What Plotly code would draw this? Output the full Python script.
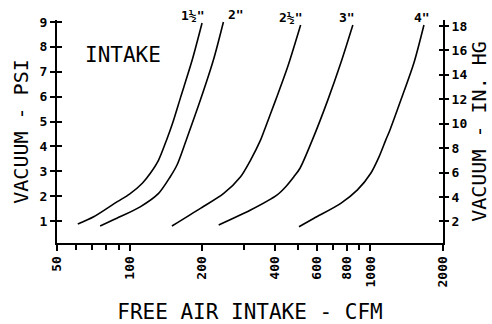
import math
import plotly.graph_objects as go

# ---- data ----
sizes = ['1½"', '2"', '2½"', '3"', '4"']

cfm_15 = [61, 71, 89, 100, 113, 122, 132, 142.5, 151, 163, 182, 200]
psi_15 = [0.88, 1.17, 1.78, 2.08, 2.52, 2.92, 3.45, 4.26, 4.94, 5.98, 7.47, 8.96]

cfm_20 = [75.5, 88.6, 110.7, 132, 147.6, 157.4, 172, 196.8, 222.9, 245.3]
psi_20 = [0.80, 1.11, 1.57, 2.11, 2.78, 3.25, 4.26, 5.86, 7.47, 9.0]

cfm_25 = [150, 197, 246, 289, 318, 350, 367, 404, 453, 513]
psi_25 = [0.80, 1.51, 2.11, 2.78, 3.45, 4.26, 4.78, 5.86, 7.19, 8.88]

cfm_30 = [234.5, 318, 410, 445, 481, 510, 574, 665, 753, 845]
psi_30 = [0.84, 1.44, 2.05, 2.38, 2.78, 3.12, 4.26, 5.86, 7.35, 8.88]

cfm_40 = [505, 583, 753, 883, 1003, 1085, 1158, 1205, 1337, 1514, 1667]
psi_40 = [0.77, 1.11, 1.71, 2.25, 2.92, 3.58, 4.26, 4.66, 5.86, 7.35, 8.88]

x_tick_vals = [50, 100, 200, 400, 600, 800, 1000, 2000]
x_tick_text = ["50", "100", "200", "400", "600", "800", "1000", "2000"]
x_minor_vals = [60, 70, 80, 90, 300, 500, 700, 900]
psi_ticks = [1, 2, 3, 4, 5, 6, 7, 8, 9]
inhg_ticks = [2, 4, 6, 8, 10, 12, 14, 16, 18]

PSI_TO_INHG = 2.036
psi_range = [0.116, 9.08]
inhg_range = [psi_range[0] * PSI_TO_INHG, psi_range[1] * PSI_TO_INHG]

series = [(cfm_15, psi_15), (cfm_20, psi_20), (cfm_25, psi_25),
          (cfm_30, psi_30), (cfm_40, psi_40)]
label_xshift = [-10, 13, -10, -6, -2]

MONO = "DejaVu Sans Mono"
tick_font = dict(family=MONO, size=13, color="black", weight="bold")
title_font = dict(family=MONO, size=20, color="black")

fig = go.Figure()
for (xs, ys), name in zip(series, sizes):
    fig.add_trace(go.Scatter(x=xs, y=ys, mode="lines", name=name,
                             line=dict(color="black", width=1.6, shape="spline", smoothing=0.8),
                             showlegend=False, hoverinfo="skip"))

# invisible traces to bring secondary axes to life
for ax in ["y2", "y3", "y4"]:
    fig.add_trace(go.Scatter(x=cfm_15[:1], y=psi_15[:1], yaxis=ax, mode="markers",
                             marker=dict(opacity=0), showlegend=False, hoverinfo="skip"))

for (xs, ys), name, dx in zip(series, sizes, label_xshift):
    fig.add_annotation(x=math.log10(xs[-1]), y=ys[-1], xref="x", yref="y",
                       text="<b>" + name + "</b>", showarrow=False,
                       xshift=dx, yshift=7, xanchor="center", yanchor="middle",
                       font=dict(family=MONO, size=13, color="black"))

fig.add_annotation(x=(123 - 57) / 386, y=(243 - 55) / 223,
                   xref="x domain", yref="y domain", text="INTAKE",
                   xanchor="center", yanchor="middle",
                   showarrow=False, font=dict(family=MONO, size=21, color="black"))

axis_common = dict(showgrid=False, zeroline=False, showline=True,
                   linecolor="black", linewidth=2, tickcolor="black",
                   tickwidth=1.5, tickfont=tick_font, automargin=False)

fig.update_layout(
    width=492, height=324,
    margin=dict(l=57, r=49, t=20, b=81),
    paper_bgcolor="white", plot_bgcolor="white",
    xaxis=dict(type="log", range=[math.log10(50), math.log10(2000)],
               tickvals=x_tick_vals, ticktext=x_tick_text, tickangle=-90,
               ticks="outside", ticklen=6,
               minor=dict(tickvals=x_minor_vals, ticks="outside", ticklen=5,
                          tickcolor="black", tickwidth=1.5),
               title=dict(text="FREE AIR INTAKE - CFM",
                          font=dict(family=MONO, size=21, color="black"), standoff=19),
               **axis_common),
    yaxis=dict(range=psi_range, tickvals=psi_ticks, ticks="outside", ticklen=5,
               title=dict(text="VACUUM - PSI", font=title_font, standoff=6),
               **axis_common),
    yaxis2=dict(range=inhg_range, tickvals=inhg_ticks, ticks="outside", ticklen=4,
                overlaying="y", side="right", anchor="x",
                title=dict(text="VACUUM - IN. HG", font=title_font, standoff=1),
                **axis_common),
    yaxis3=dict(range=psi_range, tickvals=psi_ticks, ticks="inside", ticklen=5,
                overlaying="y", side="left", anchor="x", showticklabels=False,
                showgrid=False, zeroline=False, showline=False,
                tickcolor="black", tickwidth=1.5),
    yaxis4=dict(range=inhg_range, tickvals=inhg_ticks, ticks="inside", ticklen=4,
                overlaying="y", side="right", anchor="x", showticklabels=False,
                showgrid=False, zeroline=False, showline=False,
                tickcolor="black", tickwidth=1.5),
)

fig.write_html("out.html")
